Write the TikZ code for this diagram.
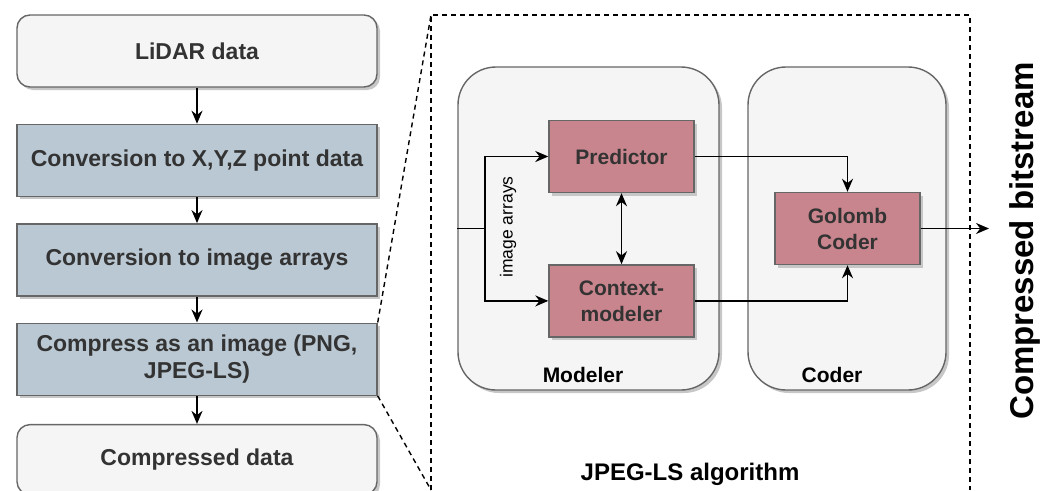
\documentclass[tikz,border=0pt]{standalone}
\usepackage{fontspec}
\setmainfont{Liberation Sans}
\usetikzlibrary{arrows.meta,positioning,shadows}

\definecolor{boxgray}{HTML}{F5F5F5}
\definecolor{linegray}{HTML}{666666}
\definecolor{stepblue}{HTML}{BAC8D3}
\definecolor{blockred}{HTML}{C9858D}
\definecolor{textgray}{HTML}{333333}

\tikzset{
  boxshadow/.style={drop shadow={shadow xshift=3pt,shadow yshift=-3pt,fill=black!22,opacity=1}},
  endbox/.style={rectangle,rounded corners=13pt,draw=linegray,fill=boxgray,line width=1.4pt,
    minimum width=360pt,minimum height=72pt,boxshadow,text=textgray,
    font=\fontsize{23}{27}\selectfont\bfseries,align=center},
  stagebox/.style={endbox,sharp corners,fill=stepblue},
  groupbox/.style={rectangle,rounded corners=38pt,draw=linegray,fill=boxgray,line width=1.4pt,boxshadow},
  blockbox/.style={rectangle,draw=linegray,fill=blockred,line width=1.4pt,
    minimum width=145pt,minimum height=72pt,boxshadow,text=textgray,
    font=\fontsize{21}{26}\selectfont\bfseries,align=center},
  grouplabel/.style={font=\fontsize{21}{25}\selectfont\bfseries,anchor=base},
  zoomline/.style={dashed,dash pattern=on 5pt off 4pt,line width=1.4pt}
}

\begin{document}
\begin{tikzpicture}[x=1pt,y=-1pt,>={Stealth[length=13pt,width=11pt]},line width=1.8pt,node distance=26pt]
  \useasboundingbox (0,0) rectangle (1051,490);

  % left column
  \node[endbox] (lidar) at (197,51) {LiDAR data};
  \node[stagebox] (xyz) [below=36pt of lidar] {Conversion to X,Y,Z point data};
  \node[stagebox] (arrays) [below=of xyz] {Conversion to image arrays};
  \node[stagebox] (compress) [below=of arrays] {Compress as an image (PNG,\\JPEG-LS)};
  \node[endbox,minimum height=70pt] (compdata) [below=28pt of compress] {Compressed data};

  \draw[->] (lidar) -- (xyz);
  \draw[->] (xyz) -- (arrays);
  \draw[->] (arrays) -- (compress);
  \draw[->] (compress) -- (compdata);

  % JPEG-LS zoom frame
  \coordinate (algtop) at (431,15);
  \coordinate (algbot) at (431,490);
  \draw[zoomline] (compress.north east) -- (algtop);
  \draw[zoomline] (compress.south east) -- (algbot);
  \draw[zoomline] (algbot) -- (algtop) -- (970,15) -- (970,490);

  \node[groupbox,minimum width=261pt,minimum height=323pt] (modeler) at (588.5,228.5) {};
  \node[groupbox,minimum width=198pt,minimum height=323pt] (coder) at (847,228.5) {};
  \node[grouplabel] at (583,382) {Modeler};
  \node[grouplabel] at (832,382) {Coder};
  \node[font=\fontsize{24}{28}\selectfont\bfseries,anchor=base] (algname) at (690,480) {JPEG-LS algorithm};

  \node[blockbox] (predictor) at (621.5,156.5) {Predictor};
  \node[blockbox] (context) [below=71pt of predictor] {Context-\\modeler};
  \node[blockbox] (golomb) at (847.5,228.5) {Golomb\\Coder};

  \coordinate (split) at (485,228.5);
  \coordinate (bitout) at (989,228.5);

  \draw (modeler.west) -- (split);
  \draw[->] (split) |- (predictor.west);
  \draw[->] (split) |- (context.west);
  \node[rotate=90,font=\fontsize{17.5}{20}\selectfont] (arraylabel) at (508,227) {image arrays};

  \draw[<->] (predictor) -- (context);
  \draw[->] (predictor.east) -| (golomb.north);
  \draw[->] (context.east) -| (golomb.south);
  \draw[->] (golomb.east) -- (bitout);

  \node[rotate=90,anchor=base,font=\fontsize{33}{38}\selectfont\bfseries] (bitstream) at (1033,241) {Compressed bitstream};
\end{tikzpicture}
\end{document}
